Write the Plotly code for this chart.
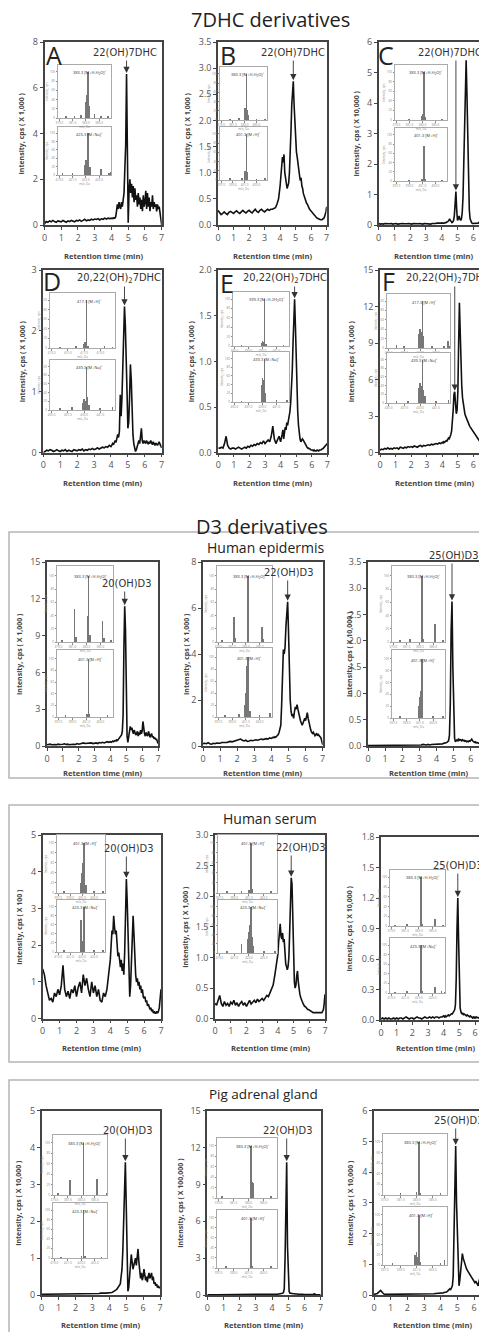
import plotly.graph_objects as go

W, H = 487, 1332          # target page size
OFF = 8                   # default page margin around the plot div
WF, HF = W - OFF, H - OFF  # figure size so that it ends at the window edge

# ---------------- data: retention-time grid (min) ----------------
T_COARSE = [0.0, 0.1, 0.2, 0.3, 0.4, 0.5, 0.6, 0.7, 0.8, 0.9,
            1.0, 1.1, 1.2, 1.3, 1.4, 1.5, 1.6, 1.7, 1.8, 1.9,
            2.0, 2.1, 2.2, 2.3, 2.4, 2.5, 2.6, 2.7, 2.8, 2.9,
            3.0, 3.1, 3.2, 3.3, 3.4, 3.5, 3.6, 3.7, 3.8, 3.9, 4.0]
T_FINE = [4.05, 4.10, 4.15, 4.20, 4.25, 4.30, 4.35, 4.40, 4.45, 4.50,
          4.55, 4.60, 4.65, 4.70, 4.75, 4.80, 4.85, 4.90, 4.95, 5.00,
          5.05, 5.10, 5.15, 5.20, 5.25, 5.30, 5.35, 5.40, 5.45, 5.50,
          5.55, 5.60, 5.65, 5.70, 5.75, 5.80, 5.85, 5.90, 5.95, 6.00,
          6.05, 6.10, 6.15, 6.20, 6.25, 6.30, 6.35, 6.40, 6.45, 6.50,
          6.55, 6.60, 6.65, 6.70, 6.75, 6.80, 6.85, 6.90, 6.95, 7.00]
TIME = T_COARSE + T_FINE

# ---------------- chromatograms (intensity in axis units) ----------------
Y_A = [0.05, 0.15, 0.12, 0.18, 0.14, 0.20, 0.15, 0.12, 0.18, 0.15,
       0.14, 0.20, 0.16, 0.12, 0.18, 0.15, 0.20, 0.17, 0.14, 0.20,
       0.18, 0.22, 0.16, 0.20, 0.25, 0.18, 0.22, 0.20, 0.25, 0.22,
       0.26, 0.24, 0.28, 0.22, 0.27, 0.25, 0.30, 0.26, 0.30, 0.28, 0.30,
       0.30, 0.28, 0.32, 0.30, 0.35, 0.60, 0.90, 0.70, 1.00, 0.80,
       0.70, 1.00, 0.80, 1.10, 1.40, 2.50, 3.50, 6.60, 4.00, 0.10,
       1.50, 2.00, 1.40, 1.80, 1.20, 1.70, 1.00, 1.60, 1.10, 1.30,
       0.80, 1.40, 0.90, 1.20, 0.70, 1.10, 0.60, 1.30, 0.80, 1.00,
       1.50, 0.70, 1.40, 0.80, 1.20, 0.60, 1.00, 0.80, 1.30, 0.70,
       1.00, 0.80, 0.90, 0.60, 0.90, 0.70, 0.80, 0.50, 0.30, 0.00]
Y_B = [0.28, 0.25, 0.20, 0.22, 0.25, 0.22, 0.20, 0.24, 0.26, 0.24,
       0.22, 0.25, 0.27, 0.24, 0.22, 0.25, 0.28, 0.25, 0.23, 0.26,
       0.28, 0.25, 0.23, 0.27, 0.30, 0.26, 0.24, 0.28, 0.30, 0.27,
       0.25, 0.28, 0.30, 0.28, 0.30, 0.30, 0.32, 0.33, 0.40, 0.50, 0.75,
       0.90, 1.10, 1.30, 1.20, 1.35, 1.00, 0.90, 0.80, 0.70, 0.75,
       0.80, 1.00, 1.30, 1.80, 2.30, 2.70, 2.75, 2.30, 1.90, 1.70,
       1.40, 1.30, 1.15, 1.00, 0.95, 0.85, 0.90, 0.75, 0.70, 0.60,
       0.55, 0.50, 0.45, 0.42, 0.40, 0.35, 0.33, 0.30, 0.28, 0.26,
       0.25, 0.22, 0.20, 0.18, 0.17, 0.15, 0.14, 0.13, 0.12, 0.12,
       0.10, 0.10, 0.10, 0.10, 0.12, 0.12, 0.15, 0.20, 0.25, 0.35]
Y_C = [0.05, 0.03, 0.04, 0.03, 0.05, 0.04, 0.03, 0.04, 0.05, 0.03,
       0.04, 0.05, 0.03, 0.04, 0.03, 0.05, 0.04, 0.03, 0.04, 0.05,
       0.04, 0.03, 0.05, 0.04, 0.03, 0.04, 0.05, 0.04, 0.03, 0.05,
       0.04, 0.05, 0.04, 0.03, 0.05, 0.04, 0.05, 0.06, 0.05, 0.06, 0.07,
       0.06, 0.07, 0.06, 0.08, 0.07, 0.09, 0.10, 0.12, 0.15, 0.20,
       0.15, 0.10, 0.08, 0.10, 0.15, 0.30, 0.70, 1.10, 0.50, 0.15,
       0.20, 0.30, 0.20, 0.15, 0.20, 0.40, 0.90, 2.00, 3.80, 5.00,
       5.40, 4.30, 2.50, 1.20, 0.50, 0.20, 0.10, 0.07, 0.05, 0.05,
       0.05, 0.04, 0.05, 0.04, 0.05, 0.06, 0.08, 0.10, 0.08, 0.06,
       0.10, 0.18, 0.20, 0.12, 0.08, 0.06, 0.05, 0.05, 0.04, 0.04]
Y_D = [0.00, 0.02, 0.04, 0.03, 0.05, 0.04, 0.02, 0.03, 0.05, 0.03,
       0.02, 0.04, 0.03, 0.05, 0.02, 0.04, 0.03, 0.02, 0.05, 0.04,
       0.03, 0.05, 0.04, 0.06, 0.03, 0.05, 0.04, 0.06, 0.05, 0.07,
       0.05, 0.06, 0.08, 0.06, 0.07, 0.09, 0.08, 0.10, 0.09, 0.12, 0.10,
       0.12, 0.15, 0.13, 0.18, 0.20, 0.17, 0.22, 0.30, 0.25, 0.35,
       0.95, 0.60, 0.90, 1.60, 2.20, 2.40, 2.10, 1.70, 1.00, 0.40,
       0.50, 0.90, 1.45, 1.20, 0.60, 0.30, 0.15, 0.05, 0.02, 0.05,
       0.10, 0.15, 0.20, 0.15, 0.25, 0.40, 0.20, 0.15, 0.20, 0.18,
       0.15, 0.20, 0.17, 0.14, 0.18, 0.15, 0.20, 0.16, 0.13, 0.18,
       0.15, 0.12, 0.16, 0.14, 0.12, 0.15, 0.18, 0.14, 0.12, 0.08]
Y_E = [0.05, 0.05, 0.06, 0.05, 0.10, 0.18, 0.08, 0.05, 0.04, 0.05,
       0.05, 0.04, 0.05, 0.06, 0.05, 0.04, 0.05, 0.06, 0.05, 0.07,
       0.06, 0.08, 0.07, 0.09, 0.08, 0.10, 0.09, 0.11, 0.10, 0.13,
       0.10, 0.12, 0.14, 0.12, 0.18, 0.29, 0.15, 0.10, 0.14, 0.18, 0.12,
       0.15, 0.20, 0.25, 0.15, 0.22, 0.28, 0.25, 0.33, 0.30, 0.35,
       0.40, 0.45, 0.55, 0.70, 0.90, 1.20, 1.50, 1.68, 1.40, 1.00,
       0.70, 0.45, 0.30, 0.20, 0.15, 0.12, 0.13, 0.15, 0.14, 0.12,
       0.10, 0.09, 0.08, 0.06, 0.05, 0.05, 0.04, 0.04, 0.03, 0.03,
       0.03, 0.02, 0.03, 0.02, 0.02, 0.02, 0.03, 0.02, 0.02, 0.03,
       0.03, 0.03, 0.04, 0.04, 0.05, 0.06, 0.07, 0.08, 0.09, 0.10]
Y_F = [0.20, 0.30, 0.25, 0.35, 0.30, 0.40, 0.30, 0.35, 0.30, 0.40,
       0.35, 0.40, 0.30, 0.45, 0.40, 0.35, 0.45, 0.40, 0.50, 0.45,
       0.50, 0.45, 0.55, 0.50, 0.45, 0.55, 0.60, 0.50, 0.60, 0.55,
       0.60, 0.65, 0.60, 0.70, 0.65, 0.70, 0.75, 0.70, 0.80, 0.75, 0.85,
       0.80, 0.90, 0.85, 0.95, 1.00, 0.95, 1.10, 1.20, 1.15, 1.30,
       1.50, 1.80, 2.50, 3.50, 4.80, 5.00, 4.00, 3.20, 3.50, 5.00,
       9.00, 12.30, 10.00, 7.00, 5.50, 4.50, 4.00, 3.50, 3.20, 3.00,
       2.80, 2.60, 2.50, 2.30, 2.20, 2.10, 2.00, 1.90, 1.80, 1.70,
       1.60, 1.50, 1.40, 1.30, 1.20, 1.10, 1.00, 0.90, 0.85, 0.90,
       1.50, 2.70, 1.80, 1.00, 0.90, 1.00, 1.20, 1.00, 0.90, 0.80]
Y_EPI20 = [0.10, 0.12, 0.15, 0.10, 0.14, 0.12, 0.10, 0.15, 0.12, 0.10,
           0.14, 0.18, 0.12, 0.15, 0.10, 0.12, 0.16, 0.14, 0.12, 0.20,
           0.15, 0.18, 0.20, 0.25, 0.20, 0.22, 0.18, 0.22, 0.25, 0.20,
           0.22, 0.25, 0.20, 0.28, 0.25, 0.30, 0.25, 0.30, 0.35, 0.30, 0.35,
           0.30, 0.35, 0.40, 0.35, 0.40, 0.45, 0.40, 0.50, 0.45, 0.55,
           0.60, 0.70, 0.80, 0.90, 1.20, 2.50, 8.00, 11.40, 9.50, 4.00,
           0.80, 0.30, 0.90, 1.40, 1.60, 1.30, 1.50, 1.20, 1.00, 1.30,
           1.10, 0.90, 1.00, 1.20, 0.80, 1.10, 0.90, 1.30, 1.00, 1.20,
           2.00, 1.40, 1.00, 0.80, 1.10, 0.90, 0.80, 1.20, 0.90, 0.70,
           0.90, 1.00, 0.70, 0.80, 0.60, 0.70, 0.50, 0.60, 0.40, 0.20]
Y_EPI22 = [0.10, 0.12, 0.10, 0.14, 0.10, 0.08, 0.12, 0.10, 0.13, 0.11,
           0.12, 0.15, 0.14, 0.16, 0.15, 0.18, 0.20, 0.18, 0.20, 0.22,
           0.25, 0.28, 0.30, 0.25, 0.22, 0.25, 0.20, 0.22, 0.25, 0.23,
           0.25, 0.27, 0.25, 0.28, 0.30, 0.28, 0.30, 0.32, 0.30, 0.35, 0.33,
           0.35, 0.38, 0.36, 0.40, 0.38, 0.42, 0.45, 0.50, 0.60, 0.80,
           0.90, 1.80, 3.50, 4.20, 4.00, 4.30, 5.20, 6.00, 6.27, 5.00,
           3.00, 2.00, 1.50, 1.30, 1.40, 1.20, 1.50, 1.70, 1.60, 1.80,
           1.60, 1.40, 1.30, 1.10, 1.00, 0.90, 1.00, 1.10, 1.20, 1.10,
           1.30, 1.45, 1.20, 1.00, 0.80, 0.70, 0.60, 0.55, 0.60, 0.50,
           0.45, 0.50, 0.55, 0.45, 0.50, 0.45, 0.40, 0.35, 0.20, 0.05]
Y_EPI25 = [0.01, 0.01, 0.02, 0.01, 0.02, 0.01, 0.01, 0.02, 0.01, 0.02,
           0.01, 0.02, 0.01, 0.02, 0.02, 0.01, 0.02, 0.01, 0.02, 0.02,
           0.02, 0.01, 0.02, 0.02, 0.01, 0.02, 0.02, 0.02, 0.01, 0.02,
           0.02, 0.02, 0.03, 0.02, 0.02, 0.03, 0.02, 0.03, 0.03, 0.03, 0.03,
           0.03, 0.03, 0.04, 0.03, 0.04, 0.04, 0.04, 0.05, 0.05, 0.06,
           0.06, 0.07, 0.08, 0.10, 0.20, 0.80, 2.20, 2.75, 1.50, 0.50,
           0.15, 0.08, 0.10, 0.12, 0.10, 0.13, 0.11, 0.12, 0.10, 0.12,
           0.10, 0.11, 0.09, 0.10, 0.08, 0.09, 0.08, 0.10, 0.09, 0.11,
           0.13, 0.10, 0.08, 0.07, 0.08, 0.06, 0.07, 0.06, 0.05, 0.06,
           0.05, 0.06, 0.05, 0.05, 0.04, 0.05, 0.04, 0.04, 0.03, 0.03]
Y_SER20 = [1.35, 1.20, 0.90, 0.70, 0.50, 0.55, 0.45, 0.70, 0.60, 0.80,
           0.65, 0.90, 1.45, 0.80, 0.60, 0.75, 0.55, 0.80, 0.70, 0.90,
           0.60, 0.85, 1.00, 0.70, 1.20, 0.90, 1.10, 0.80, 0.60, 1.00,
           0.70, 0.90, 0.60, 0.80, 0.50, 0.45, 0.70, 0.60, 0.80, 1.20, 1.60,
           2.00, 2.40, 2.30, 2.80, 2.50, 2.30, 2.40, 2.00, 1.70, 1.80,
           1.50, 1.40, 1.60, 1.30, 1.50, 1.20, 1.80, 2.80, 3.80, 3.20,
           2.00, 0.90, 0.60, 0.90, 1.60, 2.40, 2.80, 2.30, 1.60, 1.20,
           1.00, 1.10, 0.90, 1.00, 0.80, 0.90, 0.70, 0.80, 0.60, 0.55,
           0.60, 0.45, 0.50, 0.35, 0.40, 0.30, 0.25, 0.30, 0.20, 0.25,
           0.15, 0.20, 0.15, 0.15, 0.20, 0.15, 0.20, 0.30, 0.50, 0.80]
Y_SER22 = [0.25, 0.22, 0.30, 0.38, 0.25, 0.20, 0.28, 0.22, 0.25, 0.20,
           0.27, 0.24, 0.30, 0.22, 0.26, 0.20, 0.25, 0.28, 0.22, 0.26,
           0.20, 0.25, 0.30, 0.24, 0.28, 0.30, 0.26, 0.32, 0.28, 0.30,
           0.33, 0.30, 0.35, 0.38, 0.36, 0.42, 0.48, 0.55, 0.70, 0.85, 1.05,
           1.25, 1.45, 1.55, 1.35, 1.30, 1.40, 1.25, 1.30, 1.05, 0.90,
           0.85, 0.80, 0.85, 1.00, 1.40, 1.90, 2.30, 2.20, 1.60, 1.00,
           0.60, 0.50, 0.55, 0.70, 0.78, 0.60, 0.45, 0.40, 0.35, 0.30,
           0.28, 0.25, 0.22, 0.20, 0.20, 0.18, 0.17, 0.15, 0.15, 0.14,
           0.13, 0.12, 0.12, 0.11, 0.10, 0.10, 0.10, 0.10, 0.10, 0.10,
           0.10, 0.10, 0.10, 0.10, 0.10, 0.10, 0.12, 0.15, 0.25, 0.40]
Y_SER25 = [0.01, 0.02, 0.01, 0.02, 0.01, 0.02, 0.01, 0.01, 0.02, 0.01,
           0.02, 0.01, 0.02, 0.02, 0.01, 0.02, 0.03, 0.02, 0.01, 0.02,
           0.02, 0.01, 0.02, 0.03, 0.02, 0.02, 0.01, 0.02, 0.03, 0.02,
           0.02, 0.03, 0.02, 0.03, 0.02, 0.03, 0.03, 0.02, 0.03, 0.03, 0.04,
           0.03, 0.04, 0.03, 0.04, 0.04, 0.05, 0.04, 0.05, 0.05, 0.06,
           0.06, 0.07, 0.08, 0.10, 0.15, 0.40, 0.90, 1.20, 0.80, 0.30,
           0.12, 0.08, 0.06, 0.07, 0.05, 0.06, 0.05, 0.05, 0.04, 0.05,
           0.04, 0.04, 0.03, 0.04, 0.03, 0.03, 0.02, 0.03, 0.02, 0.03,
           0.02, 0.03, 0.02, 0.02, 0.02, 0.03, 0.02, 0.02, 0.02, 0.02,
           0.02, 0.02, 0.02, 0.02, 0.02, 0.02, 0.02, 0.02, 0.02, 0.02]
Y_ADR20 = [0.02, 0.02, 0.03, 0.02, 0.02, 0.03, 0.02, 0.02, 0.03, 0.02,
           0.03, 0.02, 0.03, 0.03, 0.02, 0.03, 0.04, 0.03, 0.03, 0.02,
           0.03, 0.03, 0.03, 0.04, 0.03, 0.03, 0.03, 0.04, 0.03, 0.03,
           0.04, 0.04, 0.03, 0.04, 0.04, 0.05, 0.04, 0.05, 0.05, 0.05, 0.06,
           0.06, 0.07, 0.07, 0.08, 0.09, 0.10, 0.12, 0.14, 0.16, 0.20,
           0.22, 0.25, 0.30, 0.50, 0.70, 1.20, 2.10, 2.80, 3.60, 2.50,
           0.60, 0.10, 0.20, 0.50, 0.90, 1.10, 0.90, 0.70, 0.80, 0.90,
           1.00, 0.80, 1.10, 1.25, 0.90, 0.50, 0.45, 0.60, 0.40, 0.50,
           0.70, 0.55, 0.40, 0.50, 0.35, 0.50, 0.60, 0.45, 0.55, 0.60,
           0.40, 0.50, 0.30, 0.35, 0.25, 0.30, 0.20, 0.25, 0.20, 0.20]
Y_ADR22 = [0.02, 0.01, 0.02, 0.01, 0.02, 0.01, 0.02, 0.02, 0.01, 0.02,
           0.01, 0.02, 0.01, 0.02, 0.02, 0.01, 0.02, 0.01, 0.02, 0.02,
           0.02, 0.01, 0.02, 0.02, 0.01, 0.02, 0.02, 0.02, 0.03, 0.02,
           0.02, 0.03, 0.02, 0.03, 0.03, 0.02, 0.03, 0.03, 0.03, 0.04, 0.04,
           0.04, 0.05, 0.05, 0.05, 0.06, 0.06, 0.07, 0.08, 0.09, 0.10,
           0.10, 0.12, 0.15, 0.20, 0.50, 3.00, 8.50, 10.80, 4.00, 0.80,
           0.30, 0.15, 0.12, 0.15, 0.12, 0.10, 0.12, 0.10, 0.08, 0.10,
           0.08, 0.07, 0.06, 0.06, 0.05, 0.05, 0.05, 0.04, 0.04, 0.04,
           0.04, 0.04, 0.03, 0.03, 0.03, 0.04, 0.03, 0.03, 0.03, 0.03,
           0.03, 0.10, 0.03, 0.03, 0.02, 0.02, 0.03, 0.02, 0.02, 0.02]
Y_ADR25 = [0.02, 0.03, 0.05, 0.10, 0.15, 0.08, 0.03, 0.02, 0.02, 0.03,
           0.02, 0.02, 0.03, 0.02, 0.02, 0.03, 0.02, 0.02, 0.03, 0.02,
           0.02, 0.03, 0.02, 0.03, 0.02, 0.03, 0.03, 0.02, 0.03, 0.03,
           0.03, 0.03, 0.04, 0.03, 0.04, 0.04, 0.04, 0.05, 0.05, 0.06, 0.06,
           0.06, 0.07, 0.07, 0.08, 0.08, 0.09, 0.10, 0.12, 0.15, 0.20,
           0.20, 0.18, 0.22, 0.30, 0.60, 2.00, 4.00, 4.85, 3.00, 2.00,
           0.60, 0.30, 0.50, 0.90, 1.20, 1.35, 1.20, 1.10, 1.00, 0.90,
           0.85, 0.80, 0.75, 0.70, 0.65, 0.60, 0.55, 0.50, 0.50, 0.45,
           0.40, 0.45, 0.40, 0.35, 0.30, 0.45, 0.55, 0.35, 0.30, 0.50,
           0.60, 0.40, 0.30, 0.50, 0.60, 0.40, 0.35, 0.50, 0.45, 0.40]

# ---------------- inset mass spectra (m/z, relative intensity) ----------------
S_A1_MZ = [380.0, 381.3, 382.3, 383.0, 383.1, 383.2, 383.3, 383.4, 383.5, 384.3, 385.3, 386.3]
S_A1_I = [3, 4, 6, 35, 50, 30, 100, 60, 25, 8, 3, 4]
S_A2_MZ = [419.5, 421.0, 422.8, 423.0, 423.1, 423.3, 423.4, 423.6, 425.3, 426.5, 426.8]
S_A2_I = [3, 4, 25, 35, 30, 100, 40, 20, 15, 5, 8]
S_B1_MZ = [380.5, 382.0, 383.0, 383.1, 383.2, 383.3, 383.4, 383.6, 385.0, 386.5]
S_B1_I = [2, 3, 18, 25, 20, 100, 22, 10, 2, 2]
S_B2_MZ = [398.5, 400.5, 401.0, 401.1, 401.2, 401.3, 401.4, 401.5, 403.0, 404.5]
S_B2_I = [3, 4, 12, 20, 15, 100, 18, 8, 2, 3]
S_C1_MZ = [381.0, 383.0, 383.1, 383.2, 383.3, 383.4, 386.0]
S_C1_I = [2, 8, 12, 8, 100, 6, 2]
S_C2_MZ = [399.0, 401.0, 401.1, 401.3, 401.4, 404.0]
S_C2_I = [2, 4, 5, 75, 3, 2]
S_D1_MZ = [414.0, 416.0, 417.0, 417.1, 417.2, 417.3, 417.5, 419.5, 420.5]
S_D1_I = [2, 4, 8, 12, 6, 100, 5, 3, 2]
S_D2_MZ = [436.0, 437.5, 438.8, 439.0, 439.1, 439.3, 439.4, 439.6, 441.0, 442.5]
S_D2_I = [4, 6, 15, 25, 20, 100, 30, 12, 5, 7]
S_E1_MZ = [396.0, 398.9, 399.0, 399.1, 399.3, 399.5, 402.0]
S_E1_I = [2, 6, 10, 8, 100, 4, 2]
S_E2_MZ = [436.0, 438.9, 439.0, 439.1, 439.3, 439.4, 441.0, 442.5]
S_E2_I = [2, 40, 55, 50, 100, 20, 3, 3]
S_F1_MZ = [414.0, 415.0, 416.8, 417.0, 417.1, 417.3, 417.4, 418.5, 420.0, 420.5, 420.7]
S_F1_I = [6, 4, 30, 40, 35, 100, 25, 5, 4, 15, 5]
S_F2_MZ = [436.0, 437.5, 438.8, 439.0, 439.1, 439.3, 439.4, 439.6, 441.0, 442.6]
S_F2_I = [4, 5, 35, 45, 40, 100, 30, 15, 5, 8]
S_EPI20_1_MZ = [379.5, 381.3, 381.5, 383.2, 383.3, 383.5, 385.3, 385.5, 386.5]
S_EPI20_1_I = [3, 50, 8, 40, 100, 10, 32, 6, 3]
S_EPI20_2_MZ = [398.0, 401.0, 401.1, 401.3, 401.4, 404.0]
S_EPI20_2_I = [2, 4, 6, 100, 5, 2]
S_EPI22_1_MZ = [379.5, 381.3, 381.5, 383.3, 383.4, 385.3, 385.5]
S_EPI22_1_I = [3, 38, 6, 100, 30, 22, 5]
S_EPI22_2_MZ = [398.0, 400.0, 400.9, 401.0, 401.1, 401.2, 401.3, 401.4, 401.6, 403.0, 404.5]
S_EPI22_2_I = [3, 5, 20, 40, 60, 85, 100, 50, 10, 3, 6]
S_EPI25_1_MZ = [380.0, 381.5, 383.3, 383.5, 385.3, 386.5]
S_EPI25_1_I = [2, 4, 100, 4, 28, 2]
S_EPI25_2_MZ = [398.0, 400.8, 401.0, 401.1, 401.2, 401.3, 401.4, 403.0, 404.5]
S_EPI25_2_I = [3, 20, 35, 45, 30, 100, 25, 3, 2]
S_SER20_1_MZ = [398.0, 400.8, 401.0, 401.1, 401.2, 401.3, 401.4, 401.6, 403.0, 404.5]
S_SER20_1_I = [3, 20, 40, 60, 45, 100, 35, 15, 4, 3]
S_SER20_2_MZ = [420.0, 422.8, 422.9, 423.0, 423.3, 423.4, 425.0, 426.5]
S_SER20_2_I = [3, 70, 40, 25, 100, 40, 4, 3]
S_SER22_1_MZ = [398.0, 400.0, 401.0, 401.3, 401.4, 404.0]
S_SER22_1_I = [2, 3, 5, 100, 8, 3]
S_SER22_2_MZ = [420.0, 422.0, 422.8, 423.0, 423.1, 423.3, 423.4, 423.6, 425.0, 426.5]
S_SER22_2_I = [3, 20, 30, 45, 60, 100, 35, 15, 4, 3]
S_SER25_1_MZ = [379.5, 381.3, 383.3, 383.5, 385.3, 386.5]
S_SER25_1_I = [2, 3, 100, 3, 15, 2]
S_SER25_2_MZ = [419.5, 421.3, 423.3, 423.5, 425.3, 426.3, 426.8]
S_SER25_2_I = [2, 3, 100, 3, 12, 4, 2]
S_ADR20_1_MZ = [379.5, 381.3, 383.3, 385.3, 386.8]
S_ADR20_1_I = [3, 28, 100, 30, 3]
S_ADR20_2_MZ = [420.0, 423.0, 423.3, 423.5, 426.0]
S_ADR20_2_I = [2, 3, 100, 5, 2]
S_ADR22_1_MZ = [379.5, 383.3, 383.5, 383.6, 386.0]
S_ADR22_1_I = [2, 100, 30, 28, 2]
S_ADR22_2_MZ = [398.0, 401.3, 401.5, 404.0]
S_ADR22_2_I = [2, 100, 4, 2]
S_ADR25_1_MZ = [381.0, 383.0, 383.3, 383.5, 386.0]
S_ADR25_1_I = [2, 6, 100, 3, 2]
S_ADR25_2_MZ = [398.0, 400.8, 401.0, 401.1, 401.3, 401.5, 404.0, 404.5]
S_ADR25_2_I = [2, 20, 25, 15, 100, 6, 4, 10]

# ion labels
L383 = ("383.3 [M+H-H<sub>2</sub>O]<sup>+</sup>", 383.3)
L401 = ("401.3 [M+H]<sup>+</sup>", 401.3)
L423 = ("423.3 [M+Na]<sup>+</sup>", 423.3)
L417 = ("417.3 [M+H]<sup>+</sup>", 417.3)
L439 = ("439.3 [M+Na]<sup>+</sup>", 439.3)
L399 = ("399.3 [M+H-2H<sub>2</sub>O]<sup>+</sup>", 399.3)

# ---------------- layout specification (page-pixel geometry) ----------------
PANELS = [
    dict(y=Y_A, x0=44.5, x7=161.7, yt=42, yb=225, ymax=8, dt=2, mult="1,000", ytx=21, xty=256,
         letter=("A", 54, 55), label=("22(OH)7DHC", 125, 52), at=4.9,
         insets=[((58, 111, 65, 118), S_A1_MZ, S_A1_I, L383), ((58, 111, 127, 175), S_A2_MZ, S_A2_I, L423)]),
    dict(y=Y_B, x0=218, x7=326.7, yt=42, yb=225, ymax=3.5, dt=0.5, mult="1,000", ytx=187, xty=256,
         letter=("B", 228, 55), label=("22(OH)7DHC", 293, 52), at=4.85,
         insets=[((220, 267, 67, 120), S_B1_MZ, S_B1_I, L383), ((220, 267, 127, 180), S_B2_MZ, S_B2_I, L401)]),
    dict(y=Y_C, x0=378.7, x7=489, yt=42, yb=225, ymax=6, dt=1, mult="10,000", ytx=356, xty=256,
         letter=("C", 386, 55), label=("22(OH)7DHC", 450, 52), at=4.9,
         insets=[((395, 447, 65, 120), S_C1_MZ, S_C1_I, L383), ((395, 447, 128, 181), S_C2_MZ, S_C2_I, L401)]),
    dict(y=Y_D, x0=43.3, x7=161.7, yt=270, yb=452.7, ymax=3, dt=1, mult="1,000", ytx=22, xty=483,
         letter=("D", 52, 281), label=("20,22(OH)<sub>2</sub>7DHC", 119, 278), at=4.8,
         insets=[((50, 115, 293, 348), S_D1_MZ, S_D1_I, L417), ((50, 115, 360, 410), S_D2_MZ, S_D2_I, L439)]),
    dict(y=Y_E, x0=218.3, x7=327.3, yt=270, yb=452.7, ymax=2, dt=0.5, mult="1,000", ytx=191, xty=483,
         letter=("E", 227, 283), label=("20,22(OH)<sub>2</sub>7DHC", 285, 278), at=4.9,
         insets=[((233, 289, 292, 346), S_E1_MZ, S_E1_I, L399), ((233, 289, 352, 402), S_E2_MZ, S_E2_I, L439)]),
    dict(y=Y_F, x0=380, x7=489, yt=270, yb=452.7, ymax=15, dt=3, mult="1,000", ytx=351, xty=483,
         letter=("F", 388, 281), label=("20,22(OH)<sub>2</sub>7DHC", 448, 278), at=4.8,
         insets=[((387, 450, 294, 348), S_F1_MZ, S_F1_I, L417), ((387, 450, 353, 403), S_F2_MZ, S_F2_I, L439)]),
    dict(y=Y_EPI20, x0=47, x7=158, yt=562, yb=746, ymax=15, dt=3, mult="1,000", ytx=19, xty=773,
         letter=None, label=("20(OH)D3", 126, 583), at=4.9,
         insets=[((57, 113, 566, 642), S_EPI20_1_MZ, S_EPI20_1_I, L383), ((57, 113, 650, 717), S_EPI20_2_MZ, S_EPI20_2_I, L401)]),
    dict(y=Y_EPI22, x0=203, x7=322.7, yt=562, yb=746, ymax=8, dt=2, mult="1,000", ytx=186, xty=773,
         letter=None, label=("22(OH)D3", 288, 572), at=4.95,
         insets=[((217, 272, 566, 642), S_EPI22_1_MZ, S_EPI22_1_I, L383), ((217, 272, 648, 717), S_EPI22_2_MZ, S_EPI22_2_I, L401)]),
    dict(y=Y_EPI25, x0=368, x7=488, yt=562, yb=746, ymax=3.5, dt=0.5, mult="10,000", ytx=349, xty=773,
         letter=None, label=("25(OH)D3", 453, 555), at=4.9,
         insets=[((392, 445, 566, 642), S_EPI25_1_MZ, S_EPI25_1_I, L383), ((392, 445, 650, 718), S_EPI25_2_MZ, S_EPI25_2_I, L401)]),
    dict(y=Y_SER20, x0=42.7, x7=161, yt=835, yb=1018.7, ymax=5, dt=1, mult="100", ytx=20, xty=1048,
         letter=None, label=("20(OH)D3", 128, 848), at=4.95,
         insets=[((57, 105, 835, 893), S_SER20_1_MZ, S_SER20_1_I, L401), ((57, 105, 900, 952), S_SER20_2_MZ, S_SER20_2_I, L423)]),
    dict(y=Y_SER22, x0=215, x7=325, yt=835, yb=1018.7, ymax=3, dt=0.5, mult="1,000", ytx=186, xty=1048,
         letter=None, label=("22(OH)D3", 300, 847), at=4.85,
         insets=[((218, 277, 835, 893), S_SER22_1_MZ, S_SER22_1_I, L401), ((218, 277, 900, 953), S_SER22_2_MZ, S_SER22_2_I, L423)]),
    dict(y=Y_SER25, x0=381, x7=490.7, yt=837, yb=1020, ymax=1.8, dt=0.3, mult="10,000", ytx=349, xty=1048,
         letter=None, label=("25(OH)D3", 457, 865), at=4.9,
         insets=[((390, 445, 870, 926), S_SER25_1_MZ, S_SER25_1_I, L383), ((390, 445, 938, 993), S_SER25_2_MZ, S_SER25_2_I, L423)]),
    dict(y=Y_ADR20, x0=41.7, x7=160, yt=1110.7, yb=1295, ymax=5, dt=1, mult="10,000", ytx=19, xty=1325,
         letter=None, label=("20(OH)D3", 127, 1130), at=4.95,
         insets=[((53, 107, 1135, 1195), S_ADR20_1_MZ, S_ADR20_1_I, L383), ((53, 107, 1203, 1258), S_ADR20_2_MZ, S_ADR20_2_I, L423)]),
    dict(y=Y_ADR22, x0=207.3, x7=320.7, yt=1110.7, yb=1295, ymax=15, dt=3, mult="100,000", ytx=181, xty=1325,
         letter=None, label=("22(OH)D3", 287, 1130), at=4.9,
         insets=[((217, 277, 1138, 1198), S_ADR22_1_MZ, S_ADR22_1_I, L383), ((217, 277, 1210, 1268), S_ADR22_2_MZ, S_ADR22_2_I, L401)]),
    dict(y=Y_ADR25, x0=374, x7=490.7, yt=1110.7, yb=1295, ymax=6, dt=1, mult="10,000", ytx=351, xty=1325,
         letter=None, label=("25(OH)D3", 458, 1120), at=4.9,
         insets=[((383, 447, 1134, 1195), S_ADR25_1_MZ, S_ADR25_1_I, L383), ((383, 447, 1207, 1265), S_ADR25_2_MZ, S_ADR25_2_I, L401)]),
]

SECTION_TITLES = [("7DHC derivatives", 270, 19, 20), ("D3 derivatives", 262, 526, 20)]
SUB_TITLES = [("Human epidermis", 265, 547, 14), ("Human serum", 270, 818, 14), ("Pig adrenal gland", 264, 1094, 13.5)]
BOXES = [(9, 532, 778), (9, 805, 1062), (9, 1080, 1345)]

FONT = "Open Sans, Noto Sans, Arial, sans-serif"
NARROW = "Liberation Sans Narrow, Arial Narrow, DejaVu Sans Condensed, sans-serif"


def fx(p):
    return (p - OFF) / WF


def fy(p):
    return 1 - (p - OFF) / HF


fig = go.Figure()
layout = {}
annotations = []
shapes = []
n = 0


def axnames(k):
    return "" if k == 1 else str(k)


def note(**kw):
    d = dict(xref="paper", yref="paper", showarrow=False, xanchor="center", yanchor="middle")
    d.update(kw)
    annotations.append(d)


for P in PANELS:
    n += 1
    s = axnames(n)
    ppm = (P["x7"] - P["x0"]) / 7.0
    if P["x7"] > W:
        xr = [0, (W - P["x0"]) / ppm]
        dom = [fx(P["x0"]), 1.0]
        ymirror = False
    else:
        xr = [0, 7]
        dom = [fx(P["x0"]), fx(P["x7"])]
        ymirror = True
    layout["xaxis" + s] = dict(domain=dom, anchor="y" + s, range=xr, showgrid=False, zeroline=False,
                               showline=True, linecolor="#444", linewidth=1.5, mirror=True, automargin=False,
                               ticks="outside", ticklen=3, tickwidth=1, tickcolor="#444",
                               tickmode="linear", tick0=0, dtick=1,
                               tickfont=dict(size=9, color="#555", family=FONT), fixedrange=True)
    layout["yaxis" + s] = dict(domain=[fy(P["yb"]), fy(P["yt"])], anchor="x" + s, range=[0, P["ymax"]],
                               showgrid=False, zeroline=False, showline=True, linecolor="#444", linewidth=1.5,
                               mirror=ymirror, automargin=False, ticks="outside", ticklen=3, tickwidth=1,
                               tickcolor="#444", tickmode="linear", tick0=0, dtick=P["dt"],
                               tickformat=".1f" if P["dt"] < 1 else "d",
                               tickfont=dict(size=9, color="#555", family=FONT), fixedrange=True)
    m = min(len(TIME), len(P["y"]))
    fig.add_trace(go.Scatter(x=TIME[:m], y=P["y"][:m], mode="lines", line=dict(color="#111", width=1.6),
                             xaxis="x" + s, yaxis="y" + s, showlegend=False, hoverinfo="skip"))
    # axis titles
    note(text="<b>Intensity, cps ( X %s )</b>" % P["mult"], x=fx(P["ytx"]), y=fy((P["yt"] + P["yb"]) / 2),
         textangle=-90, font=dict(size=7, color="#444", family=FONT))
    xc = (P["x0"] + P["x7"]) / 2
    note(text="<b>Retention time (min)</b>", x=fx(xc), y=fy(P["xty"]), font=dict(size=7.6, color="#444", family=FONT))
    # panel letter
    if P["letter"]:
        L, lx, ly = P["letter"]
        note(text=L, x=fx(lx), y=fy(ly), font=dict(size=25, color="#222", family=FONT))
    # peak label + arrow
    txt, lx, ly = P["label"]
    note(text=txt, x=fx(lx), y=fy(ly), font=dict(size=11, color="#333", family=NARROW))
    win = [v for t, v in zip(TIME, P["y"]) if abs(t - P["at"]) <= 0.06]
    peak = max(win)
    tip_px = P["yb"] - peak / P["ymax"] * (P["yb"] - P["yt"]) - 1
    annotations.append(dict(text="", x=P["at"], xref="x" + s, y=fy(tip_px), yref="paper", ax=0,
                            ay=-(tip_px - (ly + 7)), showarrow=True, arrowhead=2, arrowsize=1.4,
                            arrowwidth=0.9, arrowcolor="#333", standoff=0, startstandoff=0))
    # insets
    for (box, mz, inten, lab) in P["insets"]:
        n += 1
        s2 = axnames(n)
        l, r, t, b = box
        text, c = lab
        layout["xaxis" + s2] = dict(domain=[fx(l), fx(r)], anchor="y" + s2, range=[c - 4.5, c + 3.5],
                                    showgrid=False, zeroline=False, showline=True, linecolor="#aaa",
                                    linewidth=1, mirror=True, automargin=False, ticks="outside", ticklen=1.5,
                                    tickwidth=0.5, tickcolor="#888", tickmode="linear", tick0=c - 4.3, dtick=2,
                                    tickformat=".1f", tickfont=dict(size=3, color="#888"),
                                    title=dict(text="m/z, Da", font=dict(size=3, color="#888"), standoff=1),
                                    fixedrange=True)
        layout["yaxis" + s2] = dict(domain=[fy(b), fy(t)], anchor="x" + s2, range=[0, 115],
                                    showgrid=False, zeroline=False, showline=True, linecolor="#aaa",
                                    linewidth=1, mirror=True, automargin=False, ticks="outside", ticklen=1.5,
                                    tickwidth=0.5, tickcolor="#888", tickmode="linear", tick0=0, dtick=20,
                                    tickfont=dict(size=3, color="#888"),
                                    title=dict(text="Intensity, cps", font=dict(size=3, color="#888"), standoff=1),
                                    fixedrange=True)
        fig.add_trace(go.Bar(x=mz, y=inten, width=0.1, marker=dict(color="#777", line=dict(width=0)),
                             xaxis="x" + s2, yaxis="y" + s2, showlegend=False, hoverinfo="skip"))
        note(text=text, x=fx(l + 0.6 * (r - l)), y=fy(t + 0.14 * (b - t)), font=dict(size=4, color="#333", family=FONT))

for txt, x, y, sz in SECTION_TITLES + SUB_TITLES:
    note(text=txt, x=fx(x), y=fy(y), font=dict(size=sz, color="#222", family=FONT))

for x0, y0, y1 in BOXES:
    shapes.append(dict(type="rect", xref="paper", yref="paper", x0=fx(x0), x1=fx(W + 20), y0=fy(y1), y1=fy(y0),
                       line=dict(color="#b5b5b5", width=1.5), fillcolor="rgba(0,0,0,0)", layer="below"))

fig.update_layout(width=WF, height=HF, margin=dict(l=0, r=0, t=0, b=0, autoexpand=False), autosize=False,
                  paper_bgcolor="white", plot_bgcolor="white", showlegend=False,
                  annotations=annotations, shapes=shapes, bargap=0, font=dict(family=FONT), **layout)

fig.write_html("out.html")
